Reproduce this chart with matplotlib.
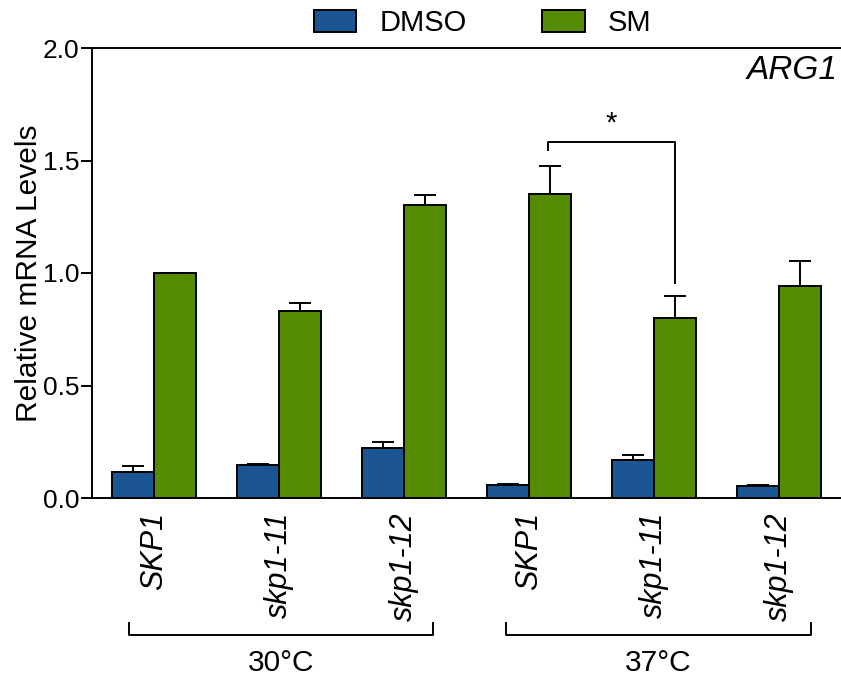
import numpy as np
import matplotlib
matplotlib.use("Agg")
import matplotlib.pyplot as plt
import matplotlib.transforms as mtransforms

plt.rcParams['font.family'] = ['Liberation Sans', 'DejaVu Sans']

# data
strains = ['SKP1', 'skp1-11', 'skp1-12', 'SKP1', 'skp1-11', 'skp1-12']
temps = ['30°C', '37°C']
dmso = [0.117, 0.145, 0.224, 0.058, 0.169, 0.055]
dmso_err = [0.027, 0.006, 0.025, 0.004, 0.021, 0.003]
sm = [1.0, 0.831, 1.302, 1.35, 0.801, 0.941]
sm_err = [0.0, 0.036, 0.043, 0.124, 0.099, 0.112]

blue = '#1B5594'
green = '#558B00'
w = 0.336
lw = 1.4

fig = plt.figure(figsize=(8.41, 6.79), dpi=100)
ax = fig.add_axes([92 / 841, (679 - 498) / 679, 1 - 92 / 841, 450 / 679])

x = np.arange(len(strains))
ekw = dict(elinewidth=lw, capthick=lw, ecolor='black')
ax.bar(x - w / 2, dmso, w, color=blue, edgecolor='black', linewidth=lw,
       yerr=[np.zeros(6), dmso_err], capsize=8, error_kw=ekw, label='DMSO', zorder=3)
ax.bar(x + w / 2, sm, w, color=green, edgecolor='black', linewidth=lw,
       yerr=[np.zeros(6), sm_err], capsize=8, error_kw=ekw, label='SM', zorder=3)

ax.set_xlim(-0.5, 5.5)
ax.set_ylim(0, 2.0)
ax.set_yticks([0, 0.5, 1.0, 1.5, 2.0])
ax.set_yticklabels(['0.0', '0.5', '1.0', '1.5', '2.0'])
ax.set_xticks(x)
ax.set_xticklabels(strains, rotation=90, style='italic', fontsize=22)
ax.tick_params(axis='x', length=0, pad=10)
ax.tick_params(axis='y', length=8, width=lw, pad=1, labelsize=19)
for s in ['left', 'bottom', 'top']:
    ax.spines[s].set_linewidth(lw)
ax.spines['right'].set_visible(False)

ax.set_ylabel('Relative mRNA Levels', fontsize=21.5)
ax.yaxis.set_label_coords(-0.066, 0.5)

ax.text(0.995, 0.985, 'ARG1', transform=ax.transAxes, ha='right', va='top',
        fontsize=24, style='italic')

# significance bracket
ax.plot([3.152, 3.152, 4.168, 4.168], [1.547, 1.584, 1.584, 0.957],
        color='black', lw=lw, zorder=4)
ax.text(3.66, 1.6, '*', ha='center', va='bottom', fontsize=21)

# temperature brackets below the axis
trans = mtransforms.blended_transform_factory(ax.transData, ax.transAxes)
for (x0, x1), lab in zip([(-0.2, 2.232), (2.816, 5.256)], temps):
    ax.plot([x0, x0, x1, x1], [-0.278, -0.305, -0.305, -0.278], color='black',
            lw=lw, transform=trans, clip_on=False)
    ax.text((x0 + x1) / 2, -0.367, lab, transform=trans, ha='center',
            va='center', fontsize=21.5)

fig.legend(loc='center', bbox_to_anchor=(0.574, 0.966), ncol=2, frameon=False,
           fontsize=21, handlelength=1.45, handleheight=0.76,
           handletextpad=0.8, columnspacing=2.6)

fig.savefig('out.png', dpi=100)
